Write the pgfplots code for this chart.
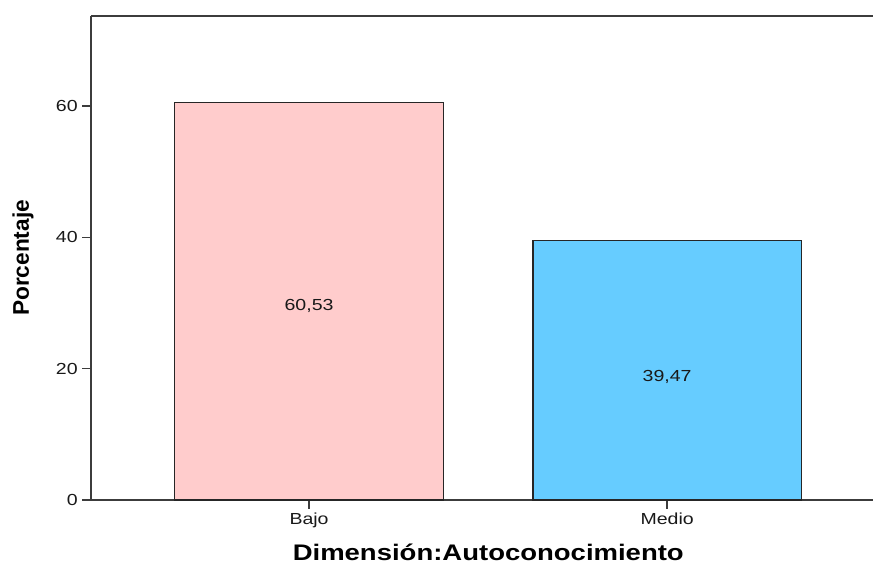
\documentclass[border=0pt]{standalone}
\usepackage{pgfplots}
\pgfplotsset{compat=1.18}
\usepackage{fontspec}
\setmainfont{Liberation Sans}[FakeStretch=1.22]
\newfontfamily\plainsans{Liberation Sans}
\definecolor{bajo}{HTML}{FFCCCC}
\definecolor{medio}{HTML}{66CCFF}
\definecolor{axc}{HTML}{3C3C3C}
\begin{document}
\begin{tikzpicture}
\begin{axis}[
  scale only axis, width=586.5pt, height=363pt,
  xmin=-0.609, xmax=1.575, ymin=0, ymax=73.7,
  axis x line*=box, axis y line*=left,
  xtick={0,1}, xticklabels={Bajo,Medio},
  xtick pos=left,
  ytick={0,20,40,60},
  tick align=outside, major tick length=6.5pt,
  tick style={axc, line width=1pt},
  axis line style={axc, line width=1.4pt},
  ticklabel style={font=\fontsize{12}{14}\selectfont, text=black!90},
  /pgf/number format/assume math mode=true,
  xlabel={Dimensión:Autoconocimiento},
  xlabel style={font=\bfseries\fontsize{16.9}{19}\selectfont, at={(axis description cs:0.508,0)}, anchor=center, yshift=-39.5pt},
  ylabel={\plainsans\bfseries Porcentaje},
  ylabel style={font=\fontsize{17}{19}\selectfont, at={(axis description cs:-0.087,0.5)}, anchor=center},
  clip=false,
]
\addplot[ybar, bar width=0.749, bar shift=0pt, fill=bajo, draw=black!85, line width=0.8pt] coordinates {(0,60.53)};
\addplot[ybar, bar width=0.749, bar shift=0pt, fill=medio, draw=black!85, line width=0.8pt] coordinates {(1,39.47)};
\addplot[only marks, mark=none, nodes near coords, point meta=explicit symbolic,
  nodes near coords style={anchor=center, font=\fontsize{12}{14}\selectfont, text=black!90}]
  coordinates {(0,29.5)[60,53] (1,18.7)[39,47]};
\end{axis}
\pgfresetboundingbox
\path ([shift={(-68.25pt,-48.75pt)}]current axis.south west) rectangle ([shift={(0pt,12pt)}]current axis.north east);
\end{tikzpicture}
\end{document}
